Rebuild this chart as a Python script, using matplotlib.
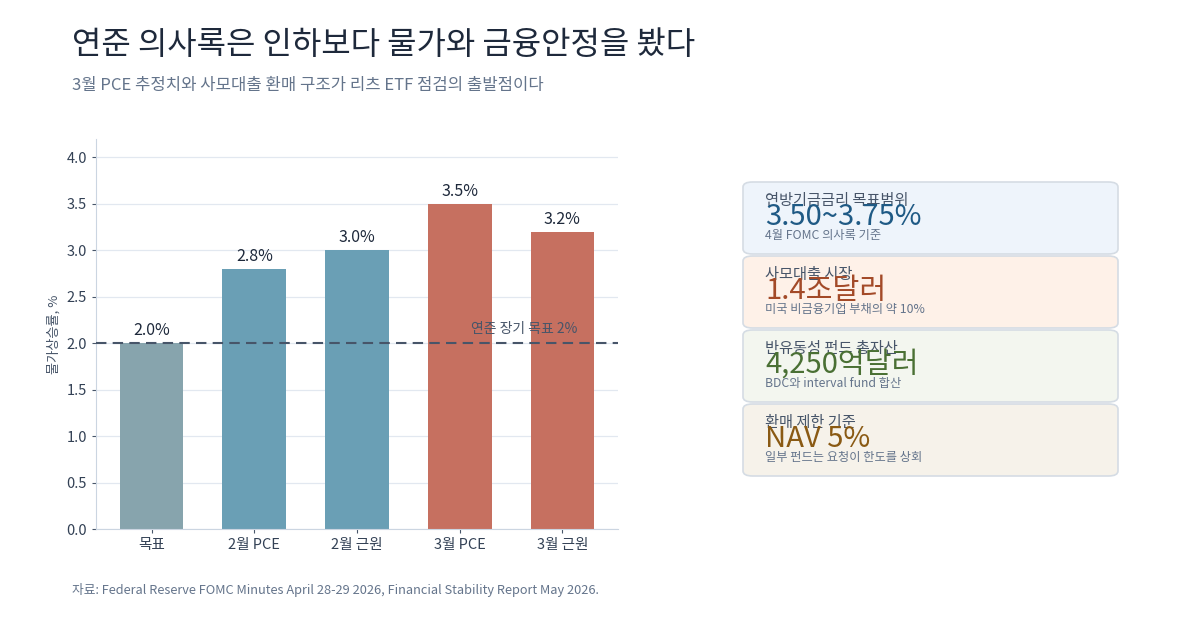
import matplotlib.pyplot as plt
from matplotlib.patches import FancyBboxPatch

plt.rcParams['font.family'] = ['Noto Sans CJK KR', 'DejaVu Sans']

# bar data
categories = ['목표', '2월 PCE', '2월 근원', '3월 PCE', '3월 근원']
values = [2.0, 2.8, 3.0, 3.5, 3.2]
bar_colors = ['#87A4AD', '#6A9FB5', '#6A9FB5', '#C67060', '#C67060']
target = 2.0

# card data
card_labels = ['연방기금금리 목표범위', '사모대출 시장', '반유동성 펀드 총자산', '환매 제한 기준']
card_values = ['3.50~3.75%', '1.4조달러', '4,250억달러', 'NAV 5%']
card_notes = ['4월 FOMC 의사록 기준', '미국 비금융기업 부채의 약 10%',
              'BDC와 interval fund 합산', '일부 펀드는 요청이 한도를 상회']
card_bg = ['#EEF4FB', '#FEF1E8', '#F3F6EF', '#F6F2EA']
card_fg = ['#1F5A85', '#A34A28', '#4A7034', '#8A5A14']

fig = plt.figure(figsize=(12, 6.3), dpi=100)
fig.patch.set_facecolor('white')

fig.text(0.06, 0.928, '연준 의사록은 인하보다 물가와 금융안정을 봤다', fontsize=23,
         color='#1E293B', va='center', ha='left')
fig.text(0.06, 0.865, '3월 PCE 추정치와 사모대출 환매 구조가 리츠 ETF 점검의 출발점이다',
         fontsize=12, color='#64748B', va='center', ha='left')
fig.text(0.06, 0.063, '자료: Federal Reserve FOMC Minutes April 28-29 2026, Financial Stability Report May 2026.',
         fontsize=9.2, color='#64748B', va='center', ha='left')

ax = fig.add_axes([0.08, 0.16, 0.435, 0.62])
x = range(len(categories))
ax.bar(x, values, width=0.62, color=bar_colors, zorder=2)
for xi, v in zip(x, values):
    ax.text(xi, v + 0.04, f'{v:.1f}%', ha='center', va='bottom', fontsize=11.5, color='#1E293B')

ax.axhline(target, color='#475569', linestyle='--', linewidth=1.5, dashes=(5, 3), zorder=3)
ax.text(4.15, target + 0.08, '연준 장기 목표 2%', ha='right', va='bottom', fontsize=10, color='#475569')

ax.set_ylim(0, 4.2)
ax.set_yticks([0, 0.5, 1.0, 1.5, 2.0, 2.5, 3.0, 3.5, 4.0])
ax.set_yticklabels([f'{t:.1f}' for t in ax.get_yticks()])
ax.set_xticks(list(x))
ax.set_xticklabels(categories)
ax.tick_params(axis='both', labelsize=10.5, colors='#334155', length=3)
ax.tick_params(axis='both', color='#475569')
ax.set_ylabel('물가상승률, %', fontsize=9.5, color='#475569')
ax.grid(axis='y', color='#E2E8F0', linewidth=0.9, zorder=0)
ax.set_axisbelow(True)
for s in ['top', 'right']:
    ax.spines[s].set_visible(False)
for s in ['left', 'bottom']:
    ax.spines[s].set_color('#CBD5E1')

# cards
W, H = 1200, 630
card_tops = [182, 256, 330, 404]
card_h = 72
cx0, cx1 = 743, 1118
for top, lab, val, note, bg, fg in zip(card_tops, card_labels, card_values, card_notes, card_bg, card_fg):
    y0 = 1 - (top + card_h) / H
    box = FancyBboxPatch((cx0 / W, y0), (cx1 - cx0) / W, card_h / H,
                         boxstyle='round,pad=0,rounding_size=0.008',
                         transform=fig.transFigure, facecolor=bg, edgecolor='#D5DCE4',
                         linewidth=1.2)
    fig.patches.append(box)
    tx = 765 / W
    fig.text(tx, 1 - (top + 18) / H, lab, fontsize=11, color='#475569', va='center', ha='left')
    fig.text(tx, 1 - (top + 35) / H, val, fontsize=21, color=fg, va='center', ha='left')
    fig.text(tx, 1 - (top + 53) / H, note, fontsize=8.8, color='#64748B', va='center', ha='left')

fig.savefig('out.png', dpi=100)
